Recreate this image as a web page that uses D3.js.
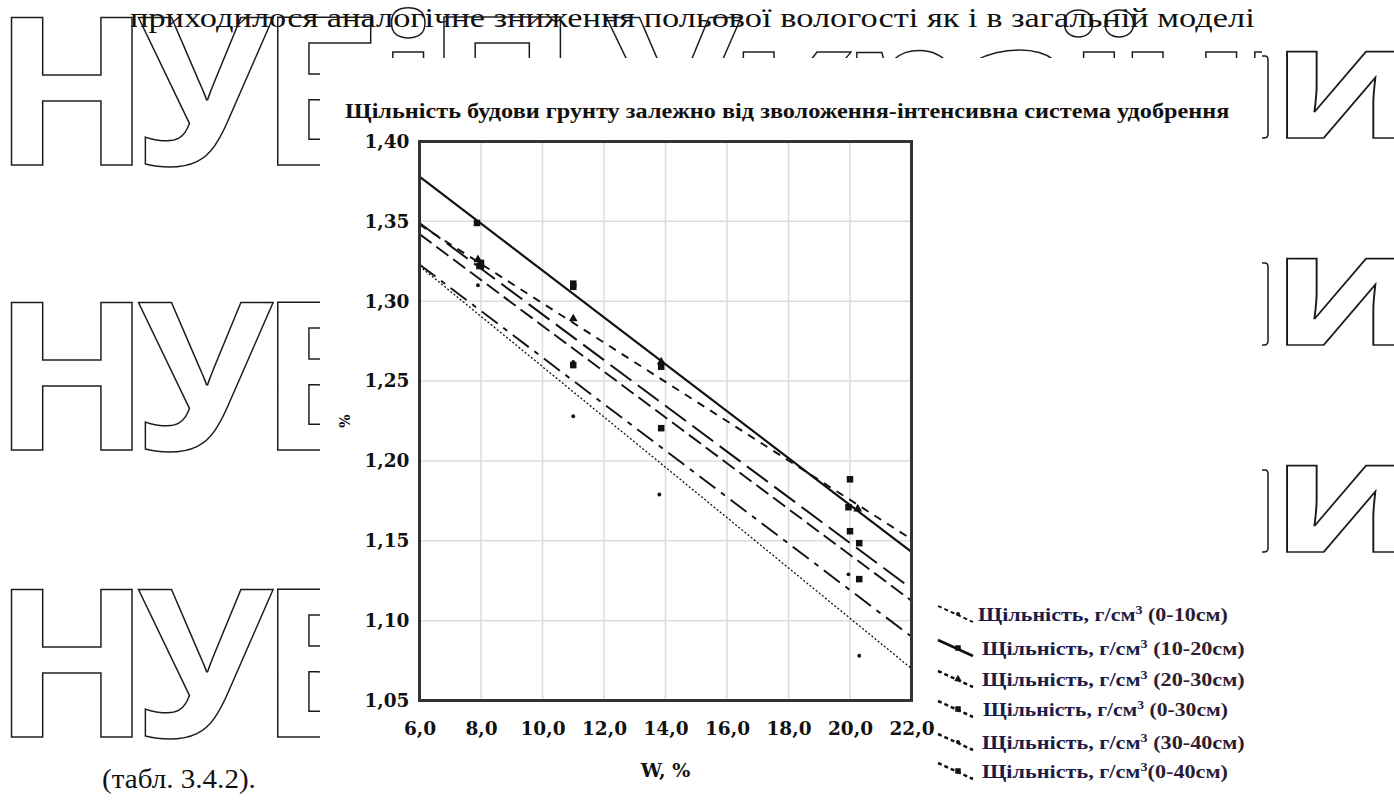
<!DOCTYPE html>
<html>
<head>
<meta charset="utf-8">
<script src="https://cdn.jsdelivr.net/npm/d3@7/dist/d3.min.js"></script>
<style>
  body { margin: 0; background: #fff; }
</style>
</head>
<body>
<svg id="chart" width="1394" height="800"></svg>
<script>
const xTicks = [6, 8, 10, 12, 14, 16, 18, 20, 22];
const yTicks = [1.05, 1.10, 1.15, 1.20, 1.25, 1.30, 1.35, 1.40];
const depths = ["(0-10см)", "(10-20см)", "(20-30см)", "(0-30см)", "(30-40см)", "(0-40см)"];
// trend line values at W = 6 and W = 22
const trendAt6  = [1.322, 1.378, 1.348, 1.349, 1.323, 1.342];
const trendAt22 = [1.070, 1.143, 1.151, 1.120, 1.090, 1.1125];
// measured points [W, density]
const pts0_10  = [[7.9, 1.310], [11.0, 1.228], [13.8, 1.179], [20.3, 1.078]];
const pts10_20 = [[7.87, 1.349], [11.0, 1.311], [13.86, 1.259], [20.0, 1.1885]];
const pts20_30 = [[7.9, 1.326], [11.0, 1.289], [13.86, 1.262], [20.25, 1.170]];
const pts0_30  = [[7.95, 1.322], [11.0, 1.309], [13.86, 1.2205], [19.95, 1.171]];
const pts30_40 = [[8.05, 1.321], [11.0, 1.262], [19.95, 1.129]];
const pts0_40  = [[8.0, 1.324], [11.0, 1.260], [20.0, 1.156], [20.3, 1.1485], [20.3, 1.126]];
const allPts = [pts0_10, pts10_20, pts20_30, pts0_30, pts30_40, pts0_40];

const title = "Щільність будови грунту залежно від зволоження-інтенсивна система удобрення";
const bodyLine = "приходилося аналогічне зниження польової вологості як і в загальній моделі";
const tableRef = "(табл. 3.4.2).";

const dashes  = ["2,2", null, "8,7", "26,8", "20,7,5,7", "15,6"];
const widths  = [1.3, 2.2, 1.9, 2, 1.9, 1.9];
const markers = ["dot", "square", "triangle", "square", "dot", "square"];

const SERIF = "'Liberation Serif', 'Times New Roman', serif";
const WIDE = "'DejaVu Serif', serif";

const svg = d3.select("#chart");
const x = d3.scaleLinear().domain([6, 22]).range([419.5, 911.5]);
const y = d3.scaleLinear().domain([1.05, 1.40]).range([700.5, 141.5]);
const fmt = d => d3.format(".2f")(d).replace(".", ",");
const fmtX = d => d3.format(".1f")(d).replace(".", ",");

// squeeze/stretch a text so it spans a given width
function fitText(sel, w) {
  const len = sel.node().getComputedTextLength();
  const x0 = +sel.attr("x"), y0 = +sel.attr("y");
  sel.attr("x", 0).attr("y", 0)
    .attr("transform", `translate(${x0},${y0}) scale(${w / len},1)`);
}

// body text
const bt = svg.append("text").attr("x", 130).attr("y", 27).attr("font-family", SERIF)
  .attr("font-size", 27).attr("fill", "#111").text(bodyLine);
fitText(bt, 1125);
const tr = svg.append("text").attr("x", 102).attr("y", 788).attr("font-family", SERIF)
  .attr("font-size", 27).attr("fill", "#111").text(tableRef);
fitText(tr, 154);

// watermark
const defs = svg.append("defs");
defs.append("clipPath").attr("id", "cl").append("rect").attr("width", 1262).attr("height", 800);
defs.append("clipPath").attr("id", "cr").append("rect").attr("x", 1262).attr("width", 140).attr("height", 800);
const wm = svg.append("g").attr("fill", "none").attr("stroke", "#1a1a1a").attr("stroke-width", 1.5)
  .attr("font-family", "'Open Sans'").attr("font-weight", 700);
const wmL = wm.append("g").attr("clip-path", "url(#cl)");
[165, 450, 737].forEach(b => {
  wmL.append("text").attr("x", -7).attr("y", b)
    .attr("font-size", 206).attr("letter-spacing", -14).text("НУБіП України");
});
const wmR = wm.append("g").attr("clip-path", "url(#cr)").attr("font-size", 158);
[138, 345, 552].forEach(b => {
  // right edge of the hidden letter
  const p = d3.path();
  p.moveTo(1258, b - 82); p.lineTo(1265, b - 82);
  p.quadraticCurveTo(1268, b - 82, 1268, b - 78);
  p.lineTo(1268, b - 4);
  p.quadraticCurveTo(1268, b, 1264, b);
  p.lineTo(1258, b);
  wmR.append("path").attr("d", p.toString());
  wmR.append("text").attr("transform", `translate(1271,${b}) scale(1.3,1)`)
    .attr("x", 0).text("и");
});

// chart background
svg.append("rect").attr("x", 320).attr("y", 58).attr("width", 942).attr("height", 742).attr("fill", "#fff");

// title
const tt = svg.append("text").attr("x", 345).attr("y", 118).attr("font-family", SERIF)
  .attr("font-size", 20).attr("font-weight", "bold").attr("fill", "#111").text(title);
fitText(tt, 885);

// grid
const grid = svg.append("g").attr("stroke", "#dcdcdc").attr("stroke-width", 1.5);
grid.selectAll(".gx").data(xTicks.slice(1, -1)).join("line")
  .attr("x1", d => x(d)).attr("x2", d => x(d)).attr("y1", y(1.40)).attr("y2", y(1.05));
grid.selectAll(".gy").data(yTicks.slice(1, -1)).join("line")
  .attr("y1", d => y(d)).attr("y2", d => y(d)).attr("x1", x(6)).attr("x2", x(22));

// axes labels
const yAxis = d3.axisLeft(y).tickValues(yTicks).tickFormat(fmt).tickSize(0).tickPadding(10);
svg.append("g").attr("transform", `translate(${x(6)},0)`).call(yAxis)
  .call(g => g.select(".domain").remove())
  .selectAll("text").attr("font-family", WIDE).attr("font-weight", "bold")
  .attr("font-size", 18.5).attr("fill", "#111");
const xAxis = d3.axisBottom(x).tickValues(xTicks).tickFormat(fmtX).tickSize(0).tickPadding(21);
svg.append("g").attr("transform", `translate(0,${y(1.05)})`).call(xAxis)
  .call(g => g.select(".domain").remove())
  .selectAll("text").attr("font-family", WIDE).attr("font-weight", "bold")
  .attr("font-size", 18.5).attr("fill", "#111");

svg.append("text").attr("x", x(14)).attr("y", 777).attr("text-anchor", "middle")
  .attr("font-family", WIDE).attr("font-weight", "bold").attr("font-size", 19)
  .attr("fill", "#111").text("W, %");
svg.append("text").attr("transform", "translate(350,421) rotate(-90)").attr("text-anchor", "middle")
  .attr("font-family", WIDE).attr("font-weight", "bold").attr("font-size", 14)
  .attr("fill", "#111").text("%");

// trend lines
const plot = svg.append("g");
depths.forEach((d, i) => {
  plot.append("line")
    .attr("x1", x(6)).attr("y1", y(trendAt6[i]))
    .attr("x2", x(22)).attr("y2", y(trendAt22[i]))
    .attr("stroke", "#111").attr("stroke-width", widths[i])
    .attr("stroke-dasharray", dashes[i]);
});

function marker(g, kind, cx, cy, s) {
  if (kind === "square") {
    g.append("rect").attr("x", cx - s / 2).attr("y", cy - s / 2).attr("width", s).attr("height", s).attr("fill", "#111");
  } else if (kind === "triangle") {
    g.append("path").attr("transform", `translate(${cx},${cy})`)
      .attr("d", d3.symbol(d3.symbolTriangle, s * s * 0.8)()).attr("fill", "#111");
  } else {
    g.append("circle").attr("cx", cx).attr("cy", cy).attr("r", s / 2.6).attr("fill", "#111");
  }
}
allPts.forEach((ps, i) => {
  ps.forEach(p => marker(plot, markers[i], x(p[0]), y(p[1]), markers[i] === "dot" ? 5 : 6.5));
});

// frame
svg.append("rect").attr("x", x(6)).attr("y", y(1.40))
  .attr("width", x(22) - x(6)).attr("height", y(1.05) - y(1.40))
  .attr("fill", "none").attr("stroke", "#333").attr("stroke-width", 3);

// legend
const legRowY = [615, 649, 680, 710, 743, 772];
const legX = [978, 982, 982, 983, 982, 982];
const legEnd = [1228, 1245, 1245, 1228, 1245, 1228];
const leg = svg.append("g");
depths.forEach((d, i) => {
  const cy = legRowY[i];
  leg.append("line").attr("x1", 938).attr("y1", cy - 9).attr("x2", 973).attr("y2", cy + 7)
    .attr("stroke", "#111").attr("stroke-width", widths[i] + 0.6).attr("stroke-dasharray", dashes[i] ? "4,3" : null);
  marker(leg, markers[i], 958, cy - 1, 5.5);
  const t = leg.append("text").attr("x", legX[i]).attr("y", cy + 6).attr("font-family", SERIF)
    .attr("font-size", 19).attr("font-weight", "bold").attr("fill", "#1c1c48");
  t.append("tspan").text("Щільність, г/см");
  t.append("tspan").attr("font-size", 12).attr("dy", -7).text("3");
  t.append("tspan").attr("dy", 7).attr("fill", "#2e1c30").text((i === 5 ? "" : " ") + d);
  fitText(t, legEnd[i] - legX[i]);
});
</script>
</body>
</html>
